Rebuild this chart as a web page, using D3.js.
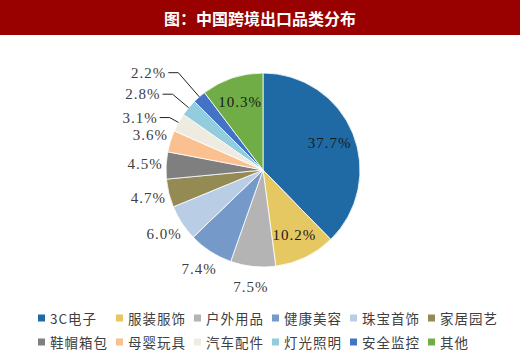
<!DOCTYPE html>
<html><head><meta charset="utf-8">
<script src="https://cdn.jsdelivr.net/npm/d3@7/dist/d3.min.js"></script>
<style>
html,body{margin:0;padding:0;background:#fff;}
svg{display:block;}
</style></head>
<body>
<svg id="chart" width="520" height="364"></svg>
<script>
const title = "图：中国跨境出口品类分布";
const categories = ["3C电子","服装服饰","户外用品","健康美容","珠宝首饰","家居园艺","鞋帽箱包","母婴玩具","汽车配件","灯光照明","安全监控","其他"];
const values = [37.7,10.2,7.5,7.4,6.0,4.7,4.5,3.6,3.1,2.8,2.2,10.3];
const colors = ["#1F6AA5","#E6C863","#B4B4B4","#7599C8","#B9CDE5","#948A54","#7F7F7F","#FAC090","#EEECE1","#93CDDD","#4472C4","#70AD47"];
const labelText = ["37.7%","10.2%","7.5%","7.4%","6.0%","4.7%","4.5%","3.6%","3.1%","2.8%","2.2%","10.3%"];

const svg = d3.select("#chart");
const W = 520, H = 364;

svg.append("rect").attr("x",0).attr("y",0).attr("width",W).attr("height",35).attr("fill","#990000");
svg.append("text").attr("x",W/2).attr("y",18).attr("text-anchor","middle").attr("dominant-baseline","central")
  .attr("fill","#fff").attr("font-family","'Noto Sans CJK SC'").attr("font-weight","bold").attr("font-size",16)
  .text(title);

const cx = 263, cy = 170, r = 97;
const g = svg.append("g").attr("transform",`translate(${cx},${cy})`);
const pie = d3.pie().sort(null).value(d=>d)(values);
const arc = d3.arc().innerRadius(0).outerRadius(r);

g.selectAll("path.slice").data(pie).join("path").attr("class","slice")
  .attr("d",arc).attr("fill",(d,i)=>colors[i]).attr("stroke","#fff").attr("stroke-width",0.8);

const inside = d => d.value >= 10;
const small = d => d.value < 3.5 && !inside(d);
const labFont = "'Liberation Serif', serif";

const inArc = d3.arc().innerRadius(72).outerRadius(72);
const outArc = d3.arc().innerRadius(118).outerRadius(118);

function label(x,y,anchor,txt,fill){
  g.append("text").attr("x",x).attr("y",y).attr("text-anchor",anchor).attr("dominant-baseline","central")
    .attr("font-family",labFont).attr("font-size",15).attr("letter-spacing",1).attr("fill",fill).text(txt);
}

pie.forEach((d,i)=>{
  if (inside(d)) {
    const [x,y] = inArc.centroid(d);
    label(x,y,"middle",labelText[i],"#1a1a1a");
  } else if (!small(d)) {
    const [x,y] = outArc.centroid(d);
    label(x,y,"middle",labelText[i],"#404040");
  }
});

const smallIdx = pie.map((d,i)=>i).filter(i=>small(pie[i]));
smallIdx.forEach((i,k)=>{
  const d = pie[i];
  const a = (d.startAngle + d.endAngle)/2;
  const er = r + 10 + k*11;
  const ex = Math.sin(a)*er, ey = -Math.cos(a)*er;
  const px = Math.sin(a)*r, py = -Math.cos(a)*r;
  const hx = ex - 10;
  g.append("path").attr("d",`M${px},${py}L${ex},${ey}L${hx},${ey}`).attr("fill","none").attr("stroke","#222").attr("stroke-width",1);
  label(hx-2,ey,"end",labelText[i],"#404040");
});

const legend = svg.append("g");
categories.forEach((c,i)=>{
  const col = i % 6, row = Math.floor(i/6);
  const x = 38 + col*78, y = 318 + row*24;
  legend.append("rect").attr("x",x).attr("y",y-3.5).attr("width",7).attr("height",7).attr("fill",colors[i]);
  legend.append("text").attr("x",x+12).attr("y",y).attr("dominant-baseline","central")
    .attr("font-family","'Noto Sans CJK SC'").attr("font-size",13.5).attr("letter-spacing",1).attr("fill","#404040").text(c);
});
</script>
</body></html>
